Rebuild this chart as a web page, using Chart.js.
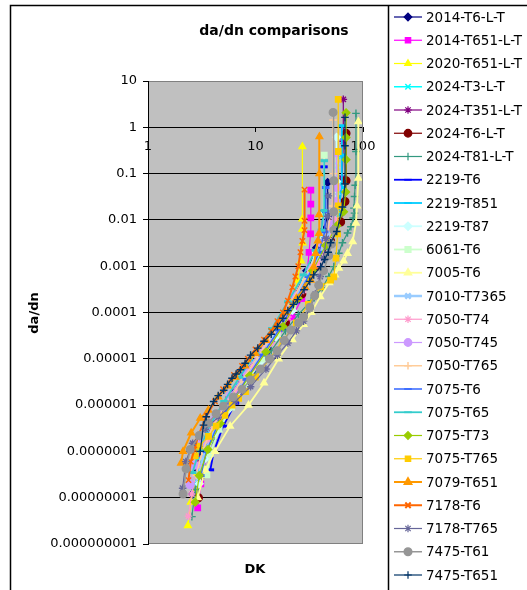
<!DOCTYPE html>
<html>
<head>
<meta charset="utf-8">
<title>da/dn comparisons</title>
<script src="https://cdn.jsdelivr.net/npm/chart.js@4.4.1/dist/chart.umd.min.js"></script>
<style>
  html, body { margin: 0; padding: 0; background: #fff; }
  #wrap { position: relative; width: 527px; height: 590px; }
</style>
</head>
<body>
<div id="wrap"><canvas id="chart" width="527" height="590"></canvas></div>
<script>
// axis ticks
const xTicks = [1, 10, 100];
const xTickLabels = ['1', '10', '100'];
const yTicks = [1e-9, 1e-8, 1e-7, 1e-6, 1e-5, 1e-4, 1e-3, 1e-2, 0.1, 1, 10];
const yTickLabels = ['0.000000001', '0.00000001', '0.0000001', '0.000001', '0.00001',
                     '0.0001', '0.001', '0.01', '0.1', '1', '10'];

// series data: [DK, da/dn]
const s2014_T6 = [[2.6,1.2e-8],[2.9,4e-8],[3.5,1.5e-7],[4.6,5.5e-7],[6.2,1.8e-6],[8.5,5.5e-6],[12,1.8e-5],[17,6e-5],[23,2.2e-4],[30,8e-4],[37,2.5e-3],[43,6e-3],[46.9,0.012],[46.9,0.064]];
const s2014_T651 = [[2.9,6e-9],[3.1,2e-8],[3.5,8e-8],[4.3,3e-7],[5.5,1e-6],[8,4e-6],[11,1.3e-5],[16,3e-5],[22,8e-5],[27,2e-4],[30,6e-4],[31.5,2e-3],[32.5,5e-3],[32.7,0.011],[32.7,0.022],[32.7,0.044]];
const s2020_T651 = [[2.35,2.5e-9],[2.5,8e-9],[2.9,3.5e-8],[3.6,1.3e-7],[4.8,4.5e-7],[6.6,1.5e-6],[9.3,5e-6],[13,1.6e-5],[17.5,5e-5],[21.5,1.6e-4],[24.5,5e-4],[26.5,1.3e-3],[27.5,3.2e-3],[27.3,0.0063],[27.3,0.0105],[27.3,0.38]];
const s2024_T3 = [[2.9,3e-8],[3.4,1.2e-7],[4.5,4.5e-7],[6,1.4e-6],[8.5,4.5e-6],[12,1.5e-5],[17,5e-5],[24,2e-4],[33,8e-4],[44,2.6e-3],[54,7e-3],[60,0.02],[63,0.08],[63.6,0.24]];
const s2024_T351 = [[2.85,5e-8],[3.2,1.5e-7],[4.2,5e-7],[5.7,1.5e-6],[8,5e-6],[11.5,1.6e-5],[17,6e-5],[24,2.5e-4],[32,9e-4],[42,3e-3],[52,8e-3],[60,0.02],[64,0.08],[65.6,0.5],[65.6,4.0]];
const s2024_T6 = [[2.95,1e-8],[3.1,3e-8],[3.6,1e-7],[4.7,4e-7],[6.3,1.3e-6],[9,4.5e-6],[13,1.6e-5],[19,6e-5],[27,2.5e-4],[37,1e-3],[50,3.5e-3],[62,9e-3],[68,0.025],[69.6,0.07],[69.6,0.74]];
const s2024_T81 = [[2.56,3.9e-9],[2.75,1.5e-8],[3.2,5e-8],[4.0,1.8e-7],[5.2,5.5e-7],[7.2,1.8e-6],[10,5.5e-6],[14,1.5e-5],[19,4e-5],[25,9e-5],[33,1.8e-4],[41.9,3.4e-4],[48,6e-4],[53.5,9.8e-4],[59.6,1.9e-3],[64.4,3.2e-3],[71.8,5.2e-3],[77.2,7.1e-3],[81,0.011],[83.4,0.014],[82.3,0.018],[83.4,0.032],[84.5,0.056],[86,0.3],[86,2.0]];
const s2219_T6 = [[3.8,4e-8],[4.1,1e-7],[5,3.5e-7],[6.5,1.1e-6],[9,4e-6],[12.5,1.3e-5],[17.5,4.5e-5],[24,1.7e-4],[31,6.5e-4],[37,2e-3],[41,5e-3],[43,0.015],[43.3,0.14]];
const s2219_T851 = [[2.7,2e-8],[3.1,7e-8],[3.9,2.5e-7],[5.2,8e-7],[7.2,2.8e-6],[10,9e-6],[14.5,3e-5],[20,1.1e-4],[28,4.5e-4],[38,1.6e-3],[50,5e-3],[59,0.013],[63,0.05],[63.6,0.25],[63.6,1.08]];
const s2219_T87 = [[3.0,2e-8],[3.4,7e-8],[4.2,2.5e-7],[5.6,8e-7],[7.8,2.6e-6],[11,8.5e-6],[15.5,3e-5],[22,1.1e-4],[30,4.5e-4],[40,1.6e-3],[49,5e-3],[55,0.015],[56.8,0.068],[56.8,0.61]];
const s6061_T6 = [[3.53,3.1e-8],[3.8,9e-8],[4.6,3e-7],[6,9e-7],[8.2,3e-6],[11.5,1e-5],[16,3.5e-5],[22,1.3e-4],[29,5e-4],[36,1.8e-3],[41,5e-3],[43,0.013],[43.6,0.25]];
const s7005_T6 = [[2.9,1e-8],[3.4,4e-8],[4.2,1e-7],[5.8,3.5e-7],[8.6,1e-6],[12,3e-6],[16.4,1e-5],[22,2.6e-5],[28,5.5e-5],[33,1e-4],[40,2.2e-4],[48.5,4.4e-4],[55,6.5e-4],[59.6,9.1e-4],[66,1.3e-3],[71.8,1.9e-3],[80.2,3.4e-3],[86,8.5e-3],[88,0.02],[90.5,0.08],[90.5,1.32]];
const s7010_T7365 = [[2.9,2.5e-8],[3.3,8e-8],[4.1,2.8e-7],[5.4,9e-7],[7.5,3e-6],[10.5,1e-5],[15,3.5e-5],[21,1.3e-4],[29,5e-4],[39,1.7e-3],[48,4.5e-3],[55,0.012],[58,0.04],[58,0.15]];
const s7050_T74 = [[2.38,4e-9],[2.55,1.2e-8],[2.9,5e-8],[3.6,1.8e-7],[4.8,6e-7],[6.8,2e-6],[9.7,6.5e-6],[14,2.2e-5],[20,8e-5],[28,3e-4],[38,1.1e-3],[48,3.5e-3],[55,0.01],[57,0.02]];
const s7050_T745 = [[2.47,1.9e-8],[2.7,5e-8],[3.2,1.6e-7],[4.2,5e-7],[5.8,1.6e-6],[8.2,5.2e-6],[11.5,1.7e-5],[16.5,6e-5],[23,2.3e-4],[32,9e-4],[42,3e-3],[51,8e-3],[56,0.025],[56.8,0.05],[56.8,0.28]];
const s7050_T765 = [[2.8,3e-8],[3.2,1e-7],[4.0,3.5e-7],[5.4,1.1e-6],[7.5,3.5e-6],[10.5,1.1e-5],[15,4e-5],[21,1.5e-4],[29,6e-4],[39,2e-3],[47,6e-3],[52,0.02],[52.7,0.1],[52.7,1.44]];
const s7075_T6 = [[3.1,3e-8],[3.5,1e-7],[4.4,3.5e-7],[5.9,1.1e-6],[8.2,3.6e-6],[11.5,1.2e-5],[16.5,4.2e-5],[23,1.6e-4],[31,6e-4],[39,2e-3],[44,5.5e-3],[45,0.015],[45,0.05]];
const s7075_T65 = [[2.6,3.5e-8],[3,1.1e-7],[3.8,3.8e-7],[5.1,1.2e-6],[7.1,4e-6],[10,1.3e-5],[14.2,4.5e-5],[20,1.7e-4],[28,6.5e-4],[36,2.2e-3],[41,6e-3],[43.5,0.016],[43.6,0.19]];
const s7075_T73 = [[2.75,8e-9],[3,3e-8],[3.6,1.1e-7],[4.7,4e-7],[6.3,1.3e-6],[8.8,4.3e-6],[12.5,1.4e-5],[18,5e-5],[25,2e-4],[34,8e-4],[45,2.8e-3],[57,7.5e-3],[66,0.015],[69,0.04],[69.6,0.2],[69.6,0.6],[69.6,2.07]];
const s7075_T765 = [[2.75,8e-8],[3.0,1.3e-7],[3.66,2.1e-7],[4.3,3.5e-7],[5.2,6e-7],[6.05,1e-6],[6.97,1.4e-6],[8.07,1.95e-6],[10,4e-6],[13.5,1e-5],[18,2.5e-5],[24,6e-5],[31,1.5e-4],[40.4,3.6e-4],[50,5e-4],[53.5,5.9e-4],[56,1.5e-3],[58,5e-3],[58.8,0.02],[58.8,0.3],[58.8,4.0]];
const s7079_T651 = [[2.03,5.6e-8],[2.12,1e-7],[2.52,2.5e-7],[3.06,5.2e-7],[3.64,7.8e-7],[4.5,1.5e-6],[5.5,2.6e-6],[6.5,4e-6],[8,7e-6],[10,1.3e-5],[12.5,2.5e-5],[15.5,5e-5],[19,1e-4],[24,2e-4],[29,3.5e-4],[32.6,5e-4],[34.8,9.8e-4],[36.3,1.9e-3],[38,3.5e-3],[39,5.1e-3],[39,0.013],[39.3,0.1],[39.3,0.63]];
const s7178_T6 = [[2.38,2.4e-8],[2.5,6e-8],[2.7,1.1e-7],[2.9,2e-7],[3.5,6e-7],[4.2,1.2e-6],[5,2.2e-6],[6.3,4.5e-6],[7.5,7e-6],[8.5,1e-5],[10,1.6e-5],[12,2.6e-5],[14,4e-5],[16,6.5e-5],[18,1e-4],[20,1.8e-4],[22,3.5e-4],[23.5,6e-4],[25,1e-3],[26.2,2e-3],[27.3,3.5e-3],[28.6,6e-3],[28.6,0.0096],[28.6,0.045]];
const s7178_T765 = [[2.1,1.6e-8],[2.25,6e-8],[2.6,1.5e-7],[3.4,3e-7],[4.5,5.5e-7],[6.5,1.2e-6],[9,2.5e-6],[12.5,6e-6],[16,1.2e-5],[20,2.2e-5],[24,4e-5],[28,6.5e-5],[32,1.2e-4],[36,2.5e-4],[40,6e-4],[43,1.5e-3],[45.5,4e-3],[47,0.012],[47.7,0.033]];
const s7475_T61 = [[2.12,1.2e-8],[2.26,4.2e-8],[2.47,1.1e-7],[3.0,2.2e-7],[3.64,4.1e-7],[4.3,6.5e-7],[5.02,9.5e-7],[6.2,1.5e-6],[7.5,2.2e-6],[9,3.5e-6],[11.1,6e-6],[13.5,1e-5],[15.9,1.5e-5],[18.5,2.5e-5],[21.3,4.2e-5],[25.2,6e-5],[28,8e-5],[32,1.3e-4],[35.5,2.3e-4],[38.7,3.9e-4],[43,8e-4],[48,1.7e-3],[51,3e-3],[53.5,6e-3],[53.5,0.015],[53.5,0.07],[52.7,2.1]];
const s7475_T651 = [[3.06,1e-7],[3.28,3.7e-7],[3.48,5.6e-7],[4.08,1.2e-6],[4.5,1.6e-6],[5.06,2.1e-6],[5.5,2.8e-6],[6.05,3.8e-6],[6.6,4.7e-6],[7.24,5.8e-6],[8,8e-6],[9,1.2e-5],[10.5,1.7e-5],[12,2.4e-5],[14,3.4e-5],[16,5e-5],[18,7.5e-5],[20,1.1e-4],[22.5,1.5e-4],[24.6,1.9e-4],[28.3,3.1e-4],[32,4.7e-4],[34.8,6.5e-4],[40.4,9.8e-4],[44,1.4e-3],[47.5,2e-3],[50,3.2e-3],[57,5.6e-3],[64.4,0.019],[68,0.06],[68,0.4],[68,1.64]];

const seriesNames = ['2014-T6-L-T', '2014-T651-L-T', '2020-T651-L-T', '2024-T3-L-T', '2024-T351-L-T',
  '2024-T6-L-T', '2024-T81-L-T', '2219-T6', '2219-T851', '2219-T87', '6061-T6', '7005-T6',
  '7010-T7365', '7050-T74', '7050-T745', '7050-T765', '7075-T6', '7075-T65', '7075-T73',
  '7075-T765', '7079-T651', '7178-T6', '7178-T765', '7475-T61', '7475-T651'];
const seriesData = [s2014_T6, s2014_T651, s2020_T651, s2024_T3, s2024_T351, s2024_T6, s2024_T81,
  s2219_T6, s2219_T851, s2219_T87, s6061_T6, s7005_T6, s7010_T7365, s7050_T74, s7050_T745,
  s7050_T765, s7075_T6, s7075_T65, s7075_T73, s7075_T765, s7079_T651, s7178_T6, s7178_T765,
  s7475_T61, s7475_T651];

// styles (Excel-like marker/colour cycle)
const colors = ['#000080', '#FF00FF', '#FFFF00', '#00FFFF', '#800080', '#800000', '#339980',
  '#0000FF', '#00CCFF', '#CCFFFF', '#CCFFCC', '#FFFF99', '#99CCFF', '#FF99CC', '#CC99FF',
  '#FFCC99', '#3366FF', '#33CCCC', '#99CC00', '#FFCC00', '#FF9900', '#FF6600', '#666699',
  '#969696', '#003366'];
const markers = ['rectRot', 'rect', 'triangle', 'crossRot', 'star', 'circle', 'cross',
  'line', 'line', 'rectRot', 'rect', 'triangle', 'crossRot', 'star', 'circle', 'cross',
  'line', 'line', 'rectRot', 'rect', 'triangle', 'crossRot', 'star', 'circle', 'cross'];
const lineWidths = [1.2, 1.2, 1.2, 1.5, 1.2, 1.2, 1.2, 1.8, 1.8, 1.8, 1.8, 1.8, 2.5, 1.2, 1.2,
  1.5, 1.5, 1.8, 1.2, 1.2, 2, 2, 1.2, 1.5, 1.2];

const FONT = 'DejaVu Sans';

const datasets = seriesData.map((pts, i) => ({
  label: seriesNames[i],
  data: pts.map(p => ({ x: p[0], y: p[1] })),
  showLine: true,
  borderColor: colors[i],
  backgroundColor: colors[i],
  pointBackgroundColor: colors[i],
  pointBorderColor: colors[i],
  pointStyle: markers[i],
  pointRadius: 3.8,
  pointBorderWidth: markers[i] === 'line' ? 3 : 1.4,
  borderWidth: lineWidths[i],
  order: seriesData.length - 1 - i
}));

// background, frame, titles and the legend box
const excelDecor = {
  id: 'excelDecor',
  beforeDraw(chart) {
    const { ctx, chartArea: a } = chart;
    ctx.save();
    ctx.fillStyle = '#fff';
    ctx.fillRect(0, 0, chart.width, chart.height);
    ctx.fillStyle = '#C0C0C0';
    ctx.fillRect(a.left, a.top, a.right - a.left, a.bottom - a.top);
    ctx.restore();
  },
  afterDraw(chart) {
    const { ctx, chartArea: a } = chart;
    ctx.save();
    // plot area border
    ctx.strokeStyle = '#808080';
    ctx.lineWidth = 1;
    ctx.strokeRect(a.left + 0.5, a.top + 0.5, a.right - a.left - 1, a.bottom - a.top - 1);
    ctx.strokeStyle = '#000';
    ctx.beginPath();
    ctx.moveTo(a.left + 0.5, a.top);
    ctx.lineTo(a.left + 0.5, a.bottom);
    ctx.stroke();

    // outer frame and legend border
    ctx.lineWidth = 1.5;
    ctx.beginPath();
    ctx.moveTo(10.5, 590); ctx.lineTo(10.5, 5.5); ctx.lineTo(527, 5.5);
    ctx.moveTo(388.5, 5.5); ctx.lineTo(388.5, 590);
    ctx.stroke();

    // titles
    ctx.fillStyle = '#000';
    ctx.textAlign = 'center';
    ctx.textBaseline = 'middle';
    ctx.font = 'bold 14px "' + FONT + '"';
    ctx.fillText('da/dn comparisons', 274, 31);
    ctx.font = 'bold 13px "' + FONT + '"';
    ctx.fillText('DK', 255, 570);
    ctx.save();
    ctx.translate(35, 313);
    ctx.rotate(-Math.PI / 2);
    ctx.fillText('da/dn', 0, 0);
    ctx.restore();

    // legend
    ctx.font = '13.5px "' + FONT + '"';
    ctx.textAlign = 'left';
    seriesNames.forEach((name, i) => {
      const y = 17 + i * 23.25;
      ctx.strokeStyle = colors[i];
      ctx.fillStyle = colors[i];
      ctx.lineWidth = lineWidths[i];
      ctx.beginPath();
      ctx.moveTo(394, y);
      ctx.lineTo(422, y);
      ctx.stroke();
      Chart.helpers.drawPoint(ctx, {
        pointStyle: markers[i],
        radius: 3.8,
        rotation: 0,
        borderWidth: markers[i] === 'line' ? 3 : 1.4
      }, 408, y);
      ctx.fillStyle = '#000';
      ctx.fillText(name, 426, y + 1);
    });
    ctx.restore();
  }
};

const ctx = document.getElementById('chart').getContext('2d');
const chart = new Chart(ctx, {
  type: 'scatter',
  data: { datasets: datasets },
  options: {
    responsive: false,
    animation: false,
    devicePixelRatio: 1,
    layout: { padding: { left: 0, top: 81, right: 164, bottom: 46 } },
    plugins: {
      legend: { display: false },
      tooltip: { enabled: false },
      title: { display: false }
    },
    scales: {
      x: {
        type: 'logarithmic',
        min: 1,
        max: 100,
        position: { y: 1 },
        afterBuildTicks: s => { s.ticks = xTicks.map(v => ({ value: v })); },
        grid: { drawOnChartArea: false, drawTicks: true, tickLength: 4, tickColor: '#000' },
        border: { display: true, color: '#000', width: 1 },
        ticks: {
          autoSkip: false, maxRotation: 0, padding: 8, color: '#000',
          font: { family: FONT, size: 13 },
          callback: (v, i) => xTickLabels[i]
        }
      },
      y: {
        type: 'logarithmic',
        min: 1e-9,
        max: 10,
        position: 'left',
        afterBuildTicks: s => { s.ticks = yTicks.map(v => ({ value: v })); },
        afterFit: s => { s.width = 148; },
        grid: {
          color: c => (c.index === 0 || c.index === yTicks.length - 1) ? 'rgba(0,0,0,0)' : '#000',
          tickColor: '#000',
          tickLength: 5,
          lineWidth: 1
        },
        border: { display: true, color: '#000', width: 1 },
        ticks: {
          autoSkip: false, padding: 6, color: '#000',
          font: { family: FONT, size: 13 },
          callback: (v, i) => yTickLabels[i]
        }
      }
    }
  },
  plugins: [excelDecor]
});
</script>
</body>
</html>
